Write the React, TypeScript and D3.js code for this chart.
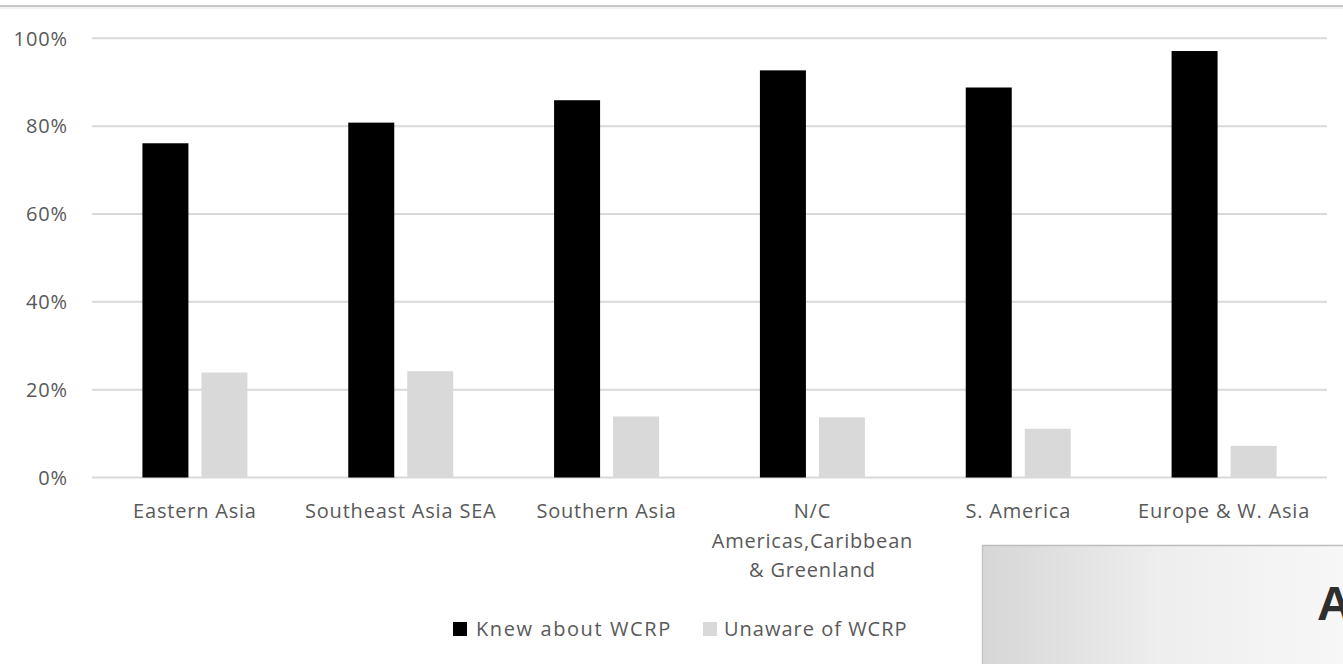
import React from "react";
import * as d3 from "d3";

const categories: string[][] = [
  ["Eastern Asia"],
  ["Southeast Asia SEA"],
  ["Southern Asia"],
  ["N/C", "Americas,Caribbean", "& Greenland"],
  ["S. America"],
  ["Europe & W. Asia"],
];
const knew: number[] = [76.1, 80.8, 85.9, 92.7, 88.8, 97.1];
const unaware: number[] = [23.9, 24.2, 13.9, 13.7, 11.1, 7.2];
const yTicks: number[] = [0, 20, 40, 60, 80, 100];
const seriesNames: string[] = ["Knew about WCRP", "Unaware of WCRP"];
const seriesColors: string[] = ["#000000", "#d9d9d9"];

const W = 1343;
const H = 664;
const FONT = "'Open Sans', sans-serif";
const TXT = "#595959";

export default function App() {
  const x = d3
    .scaleBand<number>()
    .domain(d3.range(categories.length))
    .range([92, 1327]);
  const y = d3.scaleLinear().domain([0, 100]).range([477.5, 38.3]);
  const barW = 46;
  const gap = 13;
  const fmt = (v: number) => `${v}%`;

  return (
    <svg
      width={W}
      height={H}
      style={{ position: "fixed", left: 0, top: 0, background: "#fff" }}
      fontFamily={FONT}
    >
      <defs>
        <linearGradient id="boxg" x1="0" x2="1" y1="0" y2="0">
          <stop offset="0" stopColor="#d6d6d6" />
          <stop offset="0.5" stopColor="#eeeeee" />
          <stop offset="1" stopColor="#f7f7f7" />
        </linearGradient>
      </defs>
      <rect x={0} y={0} width={W} height={H} fill="#fff" />
      {/* top border */}
      <line x1={0} x2={W} y1={6} y2={6} stroke="#b4b4b4" strokeWidth={1.5} />
      <line x1={0} x2={W} y1={8} y2={8} stroke="#ececec" strokeWidth={1.5} />

      {/* gridlines */}
      {yTicks.map((t) => (
        <line
          key={t}
          x1={x.range()[0]}
          x2={x.range()[1]}
          y1={y(t)}
          y2={y(t)}
          stroke="#d9d9d9"
          strokeWidth={2}
        />
      ))}
      {/* y labels */}
      {yTicks.map((t) => (
        <text
          key={"l" + t}
          x={68}
          y={y(t)}
          dy="0.36em"
          textAnchor="end"
          fontSize={20}
          letterSpacing={0.9}
          fill={TXT}
        >
          {fmt(t)}
        </text>
      ))}

      {/* bars */}
      {categories.map((_, i) => {
        const c = (x(i) as number) + x.bandwidth() / 2;
        return (
          <g key={"b" + i}>
            <rect
              x={c - gap / 2 - barW}
              y={y(knew[i])}
              width={barW}
              height={y(0) - y(knew[i])}
              fill={seriesColors[0]}
            />
            <rect
              x={c + gap / 2}
              y={y(unaware[i])}
              width={barW}
              height={y(0) - y(unaware[i])}
              fill={seriesColors[1]}
            />
          </g>
        );
      })}

      {/* category labels */}
      {categories.map((lines, i) => {
        const c = (x(i) as number) + x.bandwidth() / 2;
        return (
          <text
            key={"c" + i}
            textAnchor="middle"
            fontSize={20}
            letterSpacing={0.8}
            fill={TXT}
          >
            {lines.map((ln, j) => (
              <tspan key={j} x={c} y={518 + j * 29.5}>
                {ln}
              </tspan>
            ))}
          </text>
        );
      })}

      {/* legend */}
      <rect x={453} y={622} width={14} height={14} fill={seriesColors[0]} />
      <text x={476} y={636} fontSize={20} letterSpacing={1.6} fill={TXT}>
        {seriesNames[0]}
      </text>
      <rect x={703} y={622} width={14} height={14} fill={seriesColors[1]} />
      <text x={724} y={636} fontSize={20} letterSpacing={1.0} fill={TXT}>
        {seriesNames[1]}
      </text>

      {/* overlapping slide box */}
      <rect x={982} y={545} width={W - 982} height={H - 545} fill="url(#boxg)" />
      <line x1={982} x2={W} y1={545.5} y2={545.5} stroke="#bdbdbd" strokeWidth={1.5} />
      <line x1={982.5} x2={982.5} y1={545} y2={H} stroke="#c4c4c4" strokeWidth={1.5} />
      <text
        x={1317}
        y={620}
        fontSize={48}
        fontWeight={700}
        fontFamily="'Liberation Sans', Arial, sans-serif"
        fill="#2e2e2e"
      >
        A
      </text>
    </svg>
  );
}
